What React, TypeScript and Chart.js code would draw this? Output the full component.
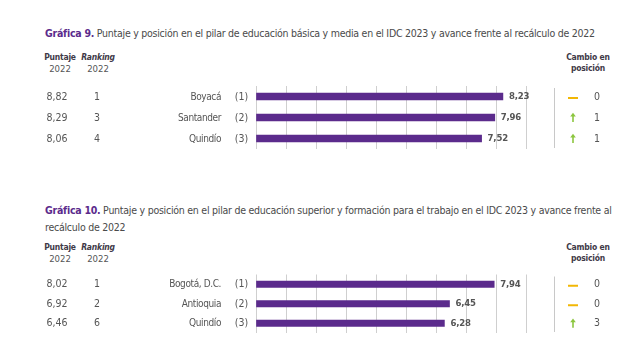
import React, { useEffect, useRef } from "react";
import { Chart, registerables } from "chart.js";

Chart.register(...registerables);

const FONT = '"DejaVu Sans Condensed", "Liberation Sans Narrow", "Arial Narrow", sans-serif';
const PURPLE = "#5b2b8c";
const TEXT = "#555555";
const DARK = "#3f3a48";
const YELLOW = "#f2b705";
const GREEN = "#8cc63f";

// ---- Gráfica 9 ----
const regions9 = ["Boyacá", "Santander", "Quindío"];
const positions9 = ["(1)", "(2)", "(3)"];
const scores2023_9 = [8.23, 7.96, 7.52];
const scores2022_9 = ["8,82", "8,29", "8,06"];
const ranking2022_9 = ["1", "3", "4"];
const change9 = [0, 1, 1];

// ---- Gráfica 10 ----
const regions10 = ["Bogotá, D.C.", "Antioquia", "Quindío"];
const positions10 = ["(1)", "(2)", "(3)"];
const scores2023_10 = [7.94, 6.45, 6.28];
const scores2022_10 = ["8,02", "6,92", "6,46"];
const ranking2022_10 = ["1", "2", "6"];
const change10 = [0, 0, 3];

const xTicks = [0, 1, 2, 3, 4, 5, 6, 7, 8, 9];

type Props = {
  labels: string[];
  positions: string[];
  values: number[];
  prevScores: string[];
  prevRanks: string[];
  changes: number[];
  top: number;
  height: number;
  padTop: number;
  padBottom: number;
  barThickness: number;
};

function fmt(v: number) {
  return v.toFixed(2).replace(".", ",");
}

function BarBlock(p: Props) {
  const ref = useRef<HTMLCanvasElement | null>(null);
  useEffect(() => {
    if (!ref.current) return;
    const tablePlugin = {
      id: "tablePlugin",
      afterDatasetsDraw(chart: any) {
        const ctx = chart.ctx as CanvasRenderingContext2D & { letterSpacing?: string };
        const ys = chart.scales.y;
        const xs = chart.scales.x;
        const area = chart.chartArea;
        ctx.save();
        // separator line on right
        ctx.strokeStyle = "#c8c8c8";
        ctx.lineWidth = 1;
        ctx.beginPath();
        ctx.moveTo(554.5, area.top + 2);
        ctx.lineTo(554.5, area.bottom - 1);
        ctx.stroke();
        ctx.textBaseline = "middle";
        p.labels.forEach((lab, i) => {
          const y = ys.getPixelForValue(i);
          ctx.fillStyle = TEXT;
          ctx.letterSpacing = "0px";
          ctx.font = `10.5px ${FONT}`;
          ctx.textAlign = "center";
          ctx.fillText(p.prevScores[i], 57, y + 0.5);
          ctx.fillText(p.prevRanks[i], 97, y + 0.5);
          ctx.letterSpacing = "-0.4px";
          ctx.font = `10px ${FONT}`;
          ctx.textAlign = "right";
          ctx.fillText(lab, 221, y + 0.5);
          ctx.letterSpacing = "0px";
          ctx.font = `10.5px ${FONT}`;
          ctx.textAlign = "center";
          ctx.fillText(p.positions[i], 241.5, y + 0.5);
          // value label
          ctx.letterSpacing = "-0.2px";
          ctx.font = `bold 9.5px ${FONT}`;
          ctx.textAlign = "left";
          ctx.fillText(fmt(p.values[i]), xs.getPixelForValue(p.values[i]) + 6, y);
          ctx.letterSpacing = "0px";
          // change icon
          const cx = 573;
          if (p.changes[i] === 0) {
            ctx.strokeStyle = YELLOW;
            ctx.lineWidth = 2;
            ctx.beginPath();
            ctx.moveTo(568, y + 1.5);
            ctx.lineTo(578, y + 1.5);
            ctx.stroke();
          } else {
            ctx.strokeStyle = GREEN;
            ctx.fillStyle = GREEN;
            ctx.lineWidth = 1.6;
            ctx.beginPath();
            ctx.moveTo(cx, y + 4.5);
            ctx.lineTo(cx, y - 1.5);
            ctx.stroke();
            ctx.beginPath();
            ctx.moveTo(cx - 2.8, y - 1);
            ctx.lineTo(cx + 2.8, y - 1);
            ctx.lineTo(cx, y - 4.8);
            ctx.closePath();
            ctx.fill();
          }
          ctx.fillStyle = TEXT;
          ctx.font = `10.5px ${FONT}`;
          ctx.textAlign = "center";
          ctx.fillText(String(p.changes[i]), 597, y + 0.5);
        });
        ctx.restore();
      },
    };
    const chart = new Chart(ref.current, {
      type: "bar",
      data: {
        labels: p.labels,
        datasets: [
          {
            data: p.values,
            backgroundColor: PURPLE,
            borderWidth: 0,
            barThickness: p.barThickness,
          },
        ],
      },
      options: {
        indexAxis: "y",
        responsive: false,
        animation: false,
        devicePixelRatio: 1,
        layout: {
          padding: { left: 256, right: 114, top: p.padTop, bottom: p.padBottom },
        },
        plugins: { legend: { display: false }, tooltip: { enabled: false } },
        scales: {
          x: {
            type: "linear",
            min: xTicks[0],
            max: xTicks[xTicks.length - 1],
            afterBuildTicks: (axis: any) => {
              axis.ticks = xTicks.map((v) => ({ value: v }));
            },
            ticks: { display: false },
            grid: { color: "#cfcfcf", lineWidth: 1, drawTicks: false },
            border: { display: false },
          },
          y: {
            type: "category",
            display: false,
            offset: true,
          },
        },
      },
      plugins: [tablePlugin],
    });
    return () => chart.destroy();
  }, []);
  return (
    <canvas
      ref={ref}
      width={640}
      height={p.height}
      style={{ position: "absolute", left: 0, top: p.top, width: 640, height: p.height }}
    />
  );
}

const titleStyle: React.CSSProperties = {
  position: "absolute",
  left: 45,
  fontFamily: FONT,
  fontSize: 10.5,
  letterSpacing: "-0.25px",
  color: "#4a4a4a",
  whiteSpace: "nowrap",
  margin: 0,
};

function Header({ top }: { top: number }) {
  const base: React.CSSProperties = {
    position: "absolute",
    top,
    fontFamily: FONT,
    fontSize: 8.5,
    lineHeight: "11px",
    textAlign: "center",
    letterSpacing: "-0.2px",
  };
  return (
    <>
      <div style={{ ...base, left: 42, width: 36, color: DARK }}>
        <div style={{ fontWeight: "bold" }}>Puntaje</div>
        <div style={{ color: TEXT, fontSize: 9.5, letterSpacing: 0 }}>2022</div>
      </div>
      <div style={{ ...base, left: 79, width: 38, color: DARK }}>
        <div style={{ fontWeight: "bold", fontStyle: "italic" }}>Ranking</div>
        <div style={{ color: TEXT, fontSize: 9.5, letterSpacing: 0 }}>2022</div>
      </div>
      <div style={{ ...base, left: 558, width: 60, color: DARK, fontWeight: "bold" }}>
        <div>Cambio en</div>
        <div>posición</div>
      </div>
    </>
  );
}

export default function App() {
  return (
    <div style={{ position: "relative", width: 640, height: 360, background: "#fff", margin: -8 }}>
      <div style={{ ...titleStyle, top: 26, lineHeight: "14px" }}>
        <span style={{ color: PURPLE, fontWeight: "bold" }}>Gráfica 9.</span> Puntaje y posición en el pilar de
        educación básica y media en el IDC 2023 y avance frente al recálculo de 2022
      </div>
      <Header top={52} />
      <BarBlock
        labels={regions9}
        positions={positions9}
        values={scores2023_9}
        prevScores={scores2022_9}
        prevRanks={ranking2022_9}
        changes={change9}
        top={80}
        height={75}
        padTop={6}
        padBottom={6}
        barThickness={7}
      />
      <div style={{ ...titleStyle, top: 202, lineHeight: "17px" }}>
        <span style={{ color: PURPLE, fontWeight: "bold" }}>Gráfica 10.</span> Puntaje y posición en el pilar de
        educación superior y formación para el trabajo en el IDC 2023 y avance frente al
        <br />
        recálculo de 2022
      </div>
      <Header top={242} />
      <BarBlock
        labels={regions10}
        positions={positions10}
        values={scores2023_10}
        prevScores={scores2022_10}
        prevRanks={ranking2022_10}
        changes={change10}
        top={268}
        height={72}
        padTop={6.5}
        padBottom={7}
        barThickness={6.5}
      />
    </div>
  );
}
